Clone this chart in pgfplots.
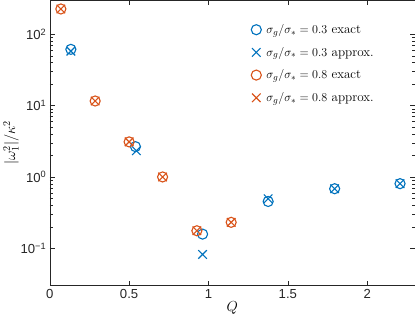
\documentclass[border=0pt]{standalone}
\usepackage{fontspec}
\setsansfont{Liberation Sans}
\usepackage{pgfplots}
\pgfplotsset{compat=1.18}
\definecolor{mblue}{rgb}{0,0.447,0.741}
\definecolor{morange}{rgb}{0.85,0.325,0.098}
\definecolor{axgray}{rgb}{0.15,0.15,0.15}
\begin{document}
\begin{tikzpicture}
\begin{axis}[
    scale only axis,
    width=362pt, height=283pt,
    ymode=log,
    xmin=0, xmax=2.3,
    ymin=0.03, ymax=300,
    xtick={0,0.5,1,1.5,2},
    xticklabels={0,0.5,1,1.5,2},
    ytick={0.1,1,10,100},
    yticklabels={10\textsuperscript{−1},10\textsuperscript{0},10\textsuperscript{1},10\textsuperscript{2}},
    tick label style={font=\sffamily\fontsize{13}{15}\selectfont, text=axgray},
    tick align=inside,
    major tick length=5pt,
    minor tick length=3pt,
    axis line style={axgray},
    every tick/.style={axgray},
    xlabel={$Q$},
    ylabel={$|\omega_1^2|/\kappa^2$},
    label style={font=\fontsize{14}{16}\selectfont},
    xlabel shift=-4pt,
    ylabel shift=-5pt,
    legend style={at={(0.91,0.93)}, anchor=north east, draw=none, fill=none,
        font=\fontsize{13}{15}\selectfont, row sep=8pt,
        nodes={inner xsep=5pt}},
    legend cell align=left,
]
\addplot[only marks, mark=o, mark size=5pt, line width=1.1pt, color=mblue] coordinates {
  (0.133,61.4) (0.540,2.66) (0.963,0.158) (1.376,0.453) (1.795,0.684) (2.207,0.805)
};
\addplot[only marks, mark=x, mark size=6pt, line width=1.1pt, color=mblue] coordinates {
  (0.133,58) (0.546,2.33) (0.963,0.082) (1.376,0.494) (1.795,0.684) (2.207,0.805)
};
\addplot[only marks, mark=o, mark size=5pt, line width=1.1pt, color=morange] coordinates {
  (0.070,226) (0.286,11.6) (0.500,3.1) (0.711,1.0) (0.927,0.176) (1.143,0.231)
};
\addplot[only marks, mark=x, mark size=6pt, line width=1.1pt, color=morange] coordinates {
  (0.070,226) (0.286,11.6) (0.500,3.1) (0.711,1.0) (0.927,0.176) (1.143,0.231)
};
\legend{$\sigma_g/\sigma_* = 0.3$ exact, $\sigma_g/\sigma_* = 0.3$ approx., $\sigma_g/\sigma_* = 0.8$ exact, $\sigma_g/\sigma_* = 0.8$ approx.}
\end{axis}
\end{tikzpicture}
\end{document}
